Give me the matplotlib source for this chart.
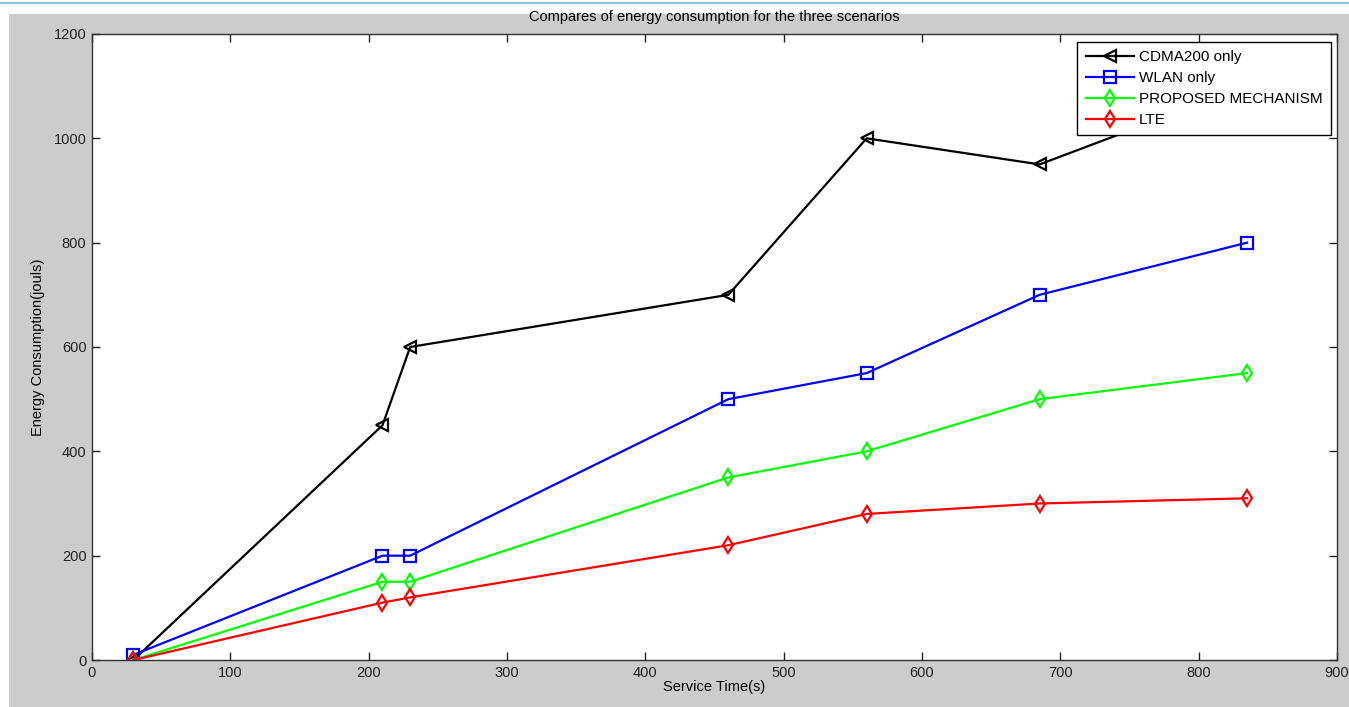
import numpy as np
import matplotlib
matplotlib.use("Agg")
import matplotlib.pyplot as plt
from matplotlib.patches import Rectangle
from matplotlib.lines import Line2D

# service time (s)
service_time = [30, 210, 230, 460, 560, 685, 835]

# energy consumption (jouls)
cdma = [0, 450, 600, 700, 1000, 950, 1100]
wlan = [10, 200, 200, 500, 550, 700, 800]
proposed = [0, 150, 150, 350, 400, 500, 550]
lte = [0, 110, 120, 220, 280, 300, 310]

plt.rcParams['font.family'] = ['Liberation Sans', 'DejaVu Sans']

W, H = 1349, 707
fig = plt.figure(figsize=(W / 100, H / 100), dpi=100)
fig.patch.set_facecolor('white')

# gray matlab figure area + teal window line
fig.patches.append(Rectangle((9 / W, 0), 1 - 9 / W, 1 - 14 / H, transform=fig.transFigure,
                             facecolor='#cccccc', edgecolor='none', zorder=-10))
fig.add_artist(Line2D([0, 1], [1 - 2.5 / H, 1 - 2.5 / H], transform=fig.transFigure,
                      color='#8fc3cf', lw=1.5, zorder=-10))

ax = fig.add_axes([92 / W, 47 / H, (1337 - 92) / W, (660 - 34) / H])
ax.set_facecolor('white')

ax.plot(service_time, cdma, color='black', marker='<', ms=8, mfc='none', mew=1.6, lw=1.6,
        label='CDMA200 only')
ax.plot(service_time, wlan, color='blue', marker='s', ms=8, mfc='none', mew=1.6, lw=1.6,
        label='WLAN only')
ax.plot(service_time, proposed, color='#00ff00', marker='d', ms=8, mfc='none', mew=1.6, lw=1.6,
        label='PROPOSED MECHANISM')
ax.plot(service_time, lte, color='red', marker='d', ms=8, mfc='none', mew=1.6, lw=1.6,
        label='LTE')

ax.set_xlim(0, 900)
ax.set_ylim(0, 1200)
ax.set_xticks(np.arange(0, 901, 100))
ax.set_yticks(np.arange(0, 1201, 200))
ax.tick_params(direction='in', length=6, width=1, labelsize=10.5, colors='#222222',
               top=True, right=True, pad=4)
for s in ax.spines.values():
    s.set_color('#333333')
    s.set_linewidth(1)

ax.set_xlabel('Service Time(s)', fontsize=10.5, labelpad=0)
ax.set_ylabel('Energy Consumption(jouls)', fontsize=10.5, labelpad=6)
ax.set_title('Compares of energy consumption for the three scenarios', fontsize=10.5, pad=9)

leg = ax.legend(loc='upper right', bbox_to_anchor=(0.9952, 0.9872), fontsize=11,
                fancybox=False, framealpha=1, edgecolor='black', borderpad=0.55,
                labelspacing=0.45, handlelength=3.2, handletextpad=0.3, borderaxespad=0)
leg.get_frame().set_linewidth(1)

fig.savefig('out.png', dpi=100)
